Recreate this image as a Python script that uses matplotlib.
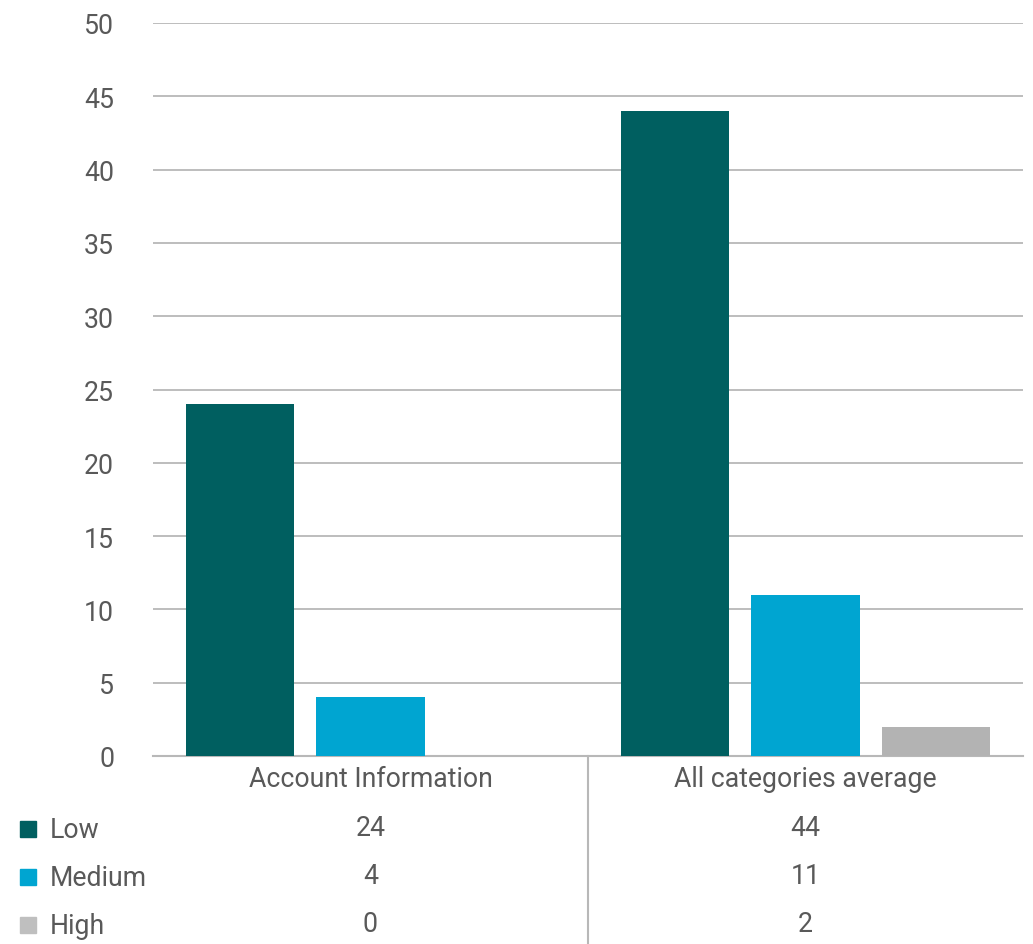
import numpy as np
import matplotlib.pyplot as plt
from matplotlib.transforms import blended_transform_factory
from matplotlib.patches import Rectangle
from matplotlib.lines import Line2D

categories = ['Account Information', 'All categories average']
series = ['Low', 'Medium', 'High']
low = [24, 44]
medium = [4, 11]
high = [0, 2]
colors = ['#005F60', '#00A5D1', '#B3B3B3']
legend_colors = ['#005F60', '#00A5D1', '#BFBFBF']

plt.rcParams['font.family'] = ['Roboto', 'DejaVu Sans']
text_color = '#595959'
grid_color = '#B8B8B8'

fig = plt.figure(figsize=(10.33, 9.45), dpi=100)
ax = fig.add_axes([153 / 1033, 188 / 945, 870 / 1033, 733 / 945])

x = np.arange(len(categories))
values = [low, medium, high]
offsets = [-0.3, 0.0, 0.3]
for vals, off, c, name in zip(values, offsets, colors, series):
    ax.bar(x + off, vals, width=0.25, color=c, label=name, zorder=3)

ax.set_xlim(-0.5, 1.5)
ax.set_ylim(0, 50)
ax.set_yticks(range(0, 51, 5))
ax.yaxis.grid(True, color=grid_color, linewidth=1.3, zorder=0)
ax.tick_params(axis='y', length=0, pad=28, labelsize=19.2, labelcolor=text_color)
ax.set_xticks([])
for s in ['top', 'right', 'left']:
    ax.spines[s].set_visible(False)
ax.spines['bottom'].set_color(grid_color)
ax.spines['bottom'].set_linewidth(1.5)

# data table below the chart
tr = blended_transform_factory(ax.transData, fig.transFigure)
fy = lambda px: 1 - px / 945
for i, cat in enumerate(categories):
    ax.text(x[i], fy(780), cat, transform=tr, ha='center', va='center',
            fontsize=19.2, color=text_color, clip_on=False)
    for j, vals in enumerate(values):
        ax.text(x[i], fy(829 + 48 * j), str(vals[i]), transform=tr,
                ha='center', va='center', fontsize=19.2, color=text_color,
                clip_on=False)

fig.add_artist(Line2D([588 / 1033, 588 / 1033], [0, fy(757)],
                      transform=fig.transFigure, color=grid_color, linewidth=1.5))

for j, name in enumerate(series):
    yc = fy(830 + 48 * j)
    fig.add_artist(Rectangle((20 / 1033, yc - 8 / 945), 16 / 1033, 16 / 945,
                             transform=fig.transFigure, color=legend_colors[j]))
    fig.text(50 / 1033, yc - 1 / 945, name, ha='left', va='center', fontsize=19.2,
             color=text_color)

fig.savefig('out.png', dpi=100)
